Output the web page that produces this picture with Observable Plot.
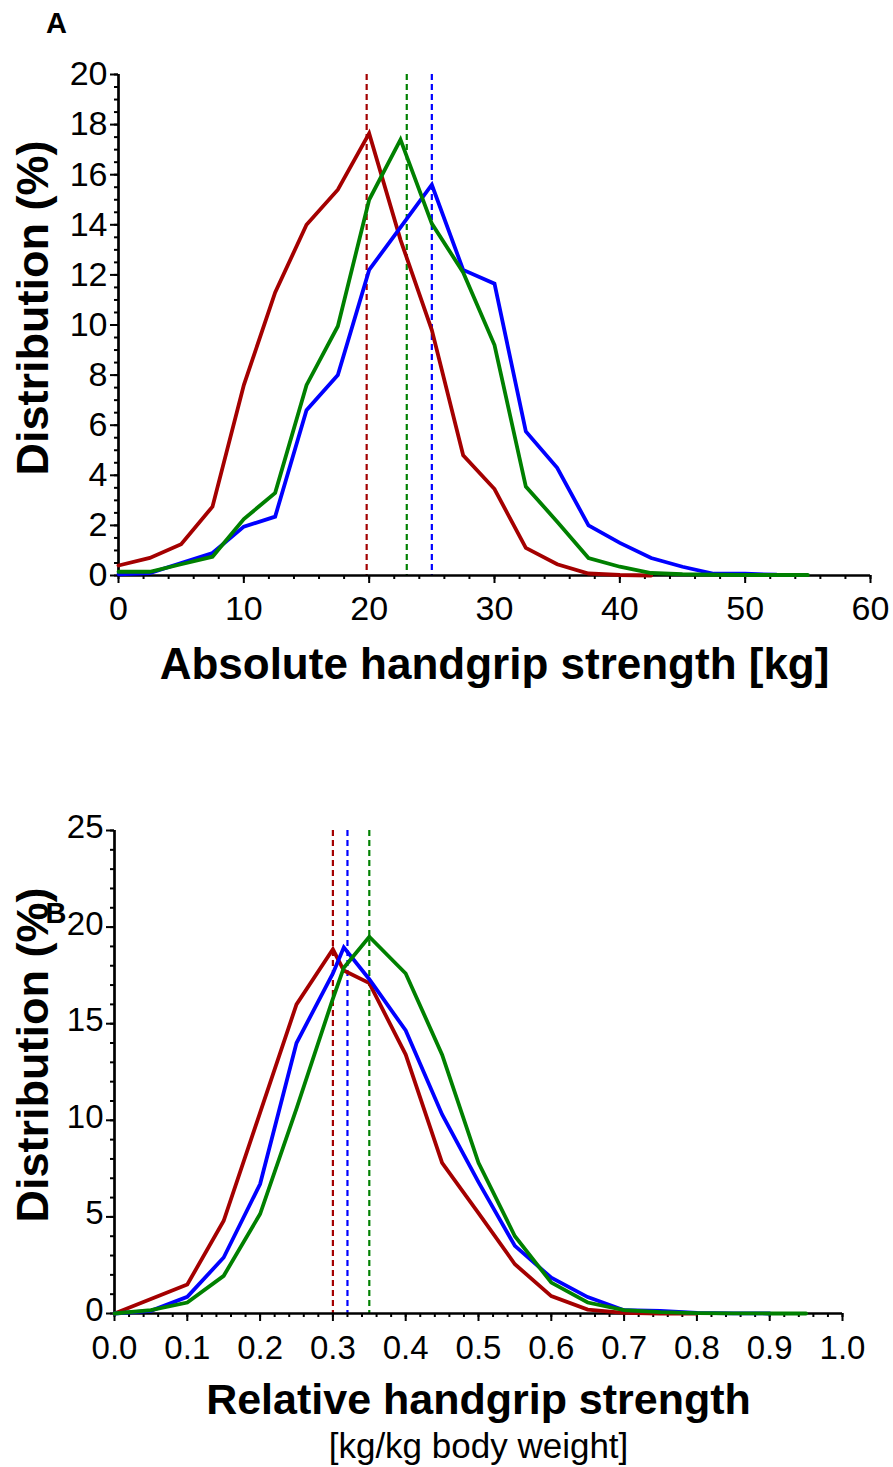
<!DOCTYPE html>
<html><head><meta charset="utf-8">
<script src="https://cdn.jsdelivr.net/npm/d3@7"></script>
<script src="https://cdn.jsdelivr.net/npm/@observablehq/plot@0.6"></script>
<style>body{margin:0;background:#fff} #chart svg{display:block}</style>
</head><body><div id="chart"></div>
<script>
// ---- Series ----
const seriesNames = ["Group 1", "Group 2", "Group 3"];
const seriesColors = ["#a40000", "#0000ff", "#008000"];

// ---- Panel A: absolute handgrip strength ----
const absX = [0, 2.5, 5, 7.5, 10, 12.5, 15, 17.5, 20, 22.5, 25, 27.5, 30, 32.5, 35, 37.5, 40, 42.5, 45, 47.5, 50, 52.5, 55];
const absRed = [0.4, 0.7, 1.25, 2.75, 7.6, 11.3, 14.0, 15.4, 17.65, 13.4, 9.8, 4.8, 3.45, 1.1, 0.45, 0.08, 0.02, 0];
const absBlue = [0.05, 0.1, 0.5, 0.9, 1.95, 2.35, 6.6, 8.0, 12.2, 13.9, 15.6, 12.2, 11.65, 5.75, 4.3, 2.0, 1.3, 0.7, 0.35, 0.07, 0.07, 0.03];
const absGreen = [0.15, 0.15, 0.45, 0.75, 2.25, 3.3, 7.6, 9.95, 15.0, 17.4, 14.05, 12.1, 9.2, 3.55, 2.15, 0.7, 0.35, 0.1, 0.05, 0.03, 0.02, 0.02, 0.02];
const absMeans = [19.8, 25.0, 23.0]; // red, blue, green
const absXTicks = [0, 10, 20, 30, 40, 50, 60];
const absYTicks = [0, 2, 4, 6, 8, 10, 12, 14, 16, 18, 20];

// ---- Panel B: relative handgrip strength ----
const relX = [0, 0.05, 0.1, 0.15, 0.2, 0.25, 0.3, 0.315, 0.35, 0.4, 0.45, 0.5, 0.55, 0.6, 0.65, 0.7, 0.75, 0.8, 0.85, 0.9, 0.95];
const relRed = [0, 0.75, 1.5, 4.8, 10.4, 16.0, 18.85, 17.75, 17.1, 13.4, 7.8, 5.2, 2.55, 0.9, 0.2, 0.03, 0, 0];
const relBlue = [0, 0.14, 0.86, 2.9, 6.7, 14.0, 17.6, 18.95, 17.3, 14.65, 10.3, 6.8, 3.5, 1.85, 0.85, 0.17, 0.14, 0.03, 0.01, 0];
const relGreen = [0, 0.17, 0.57, 1.95, 5.15, 10.6, 16.3, 17.9, 19.5, 17.6, 13.4, 7.8, 4.0, 1.6, 0.57, 0.17, 0.07, 0.02, 0.01, 0, 0];
const relMeans = [0.30, 0.32, 0.35]; // red, blue, green
const relXTicks = [0, 0.1, 0.2, 0.3, 0.4, 0.5, 0.6, 0.7, 0.8, 0.9, 1.0];
const relYTicks = [0, 5, 10, 15, 20, 25];

// ---- Texts ----
const panelLabels = ["A", "B"];
const yTitle = "Distribution (%)";
const absXTitle = "Absolute handgrip strength [kg]";
const relXTitle = "Relative handgrip strength";
const relXSubtitle = "[kg/kg body weight]";

function tidy(xs, ys, name) { return ys.map((y, i) => ({x: xs[i], y, series: name})); }
const absData = [
  ...tidy(absX, absRed, seriesNames[0]),
  ...tidy(absX, absBlue, seriesNames[1]),
  ...tidy(absX, absGreen, seriesNames[2])
];
const relData = [
  ...tidy(relX, relRed, seriesNames[0]),
  ...tidy(relX, relBlue, seriesNames[1]),
  ...tidy(relX, relGreen, seriesNames[2])
];
const absMeanData = absMeans.map((x, i) => ({x, series: seriesNames[i]}));
const relMeanData = relMeans.map((x, i) => ({x, series: seriesNames[i]}));

const style = {fontFamily: "'Liberation Sans', Arial, sans-serif", background: "white", color: "black", overflow: "visible"};

function panel(cfg) {
  return Plot.plot({
    width: 893, height: cfg.height,
    marginTop: cfg.mt, marginBottom: cfg.mb, marginLeft: cfg.ml, marginRight: cfg.mr,
    x: {domain: cfg.xDomain},
    y: {domain: cfg.yDomain},
    color: {domain: seriesNames, range: seriesColors},
    style,
    marks: [
      Plot.ruleX(cfg.means, {x: "x", stroke: "series", strokeWidth: 2.2, strokeDasharray: "6,4"}),
      Plot.axisY({ticks: cfg.yMinor, tickSize: 4, strokeWidth: 2, tickFormat: () => "", label: null}),
      Plot.axisY({ticks: cfg.yTicks, tickSize: 8, strokeWidth: 2, label: null, tickFormat: () => ""}),
      Plot.axisY({ticks: cfg.yTicks, tickSize: 8, tickPadding: 3, fontSize: cfg.tickFont, tickFormat: d => String(d), label: null, strokeOpacity: 0, dy: cfg.yLabelDy}),
      Plot.axisX({ticks: cfg.xMinor, tickSize: 4, strokeWidth: 2, tickFormat: () => "", label: null}),
      Plot.axisX({ticks: cfg.xTicks, tickSize: 8, strokeWidth: 2, tickPadding: cfg.xPad, fontSize: cfg.tickFont, tickFormat: cfg.xFormat, label: null}),
      Plot.ruleX([cfg.xDomain[0]], {stroke: "black", strokeWidth: 2.7}),
      Plot.ruleY([cfg.yDomain[0]], {stroke: "black", strokeWidth: 2.7}),
      Plot.line(cfg.data, {x: "x", y: "y", z: "series", stroke: "series", strokeWidth: 3.8, strokeLinejoin: "miter", strokeMiterlimit: 4}),
      Plot.text([yTitle], {frameAnchor: "left", rotate: -90, lineAnchor: "bottom", textAnchor: "middle", dx: cfg.yTitleDx, dy: -17, fontSize: 45, fontWeight: "bold"}),
      ...cfg.titles,
      Plot.text([cfg.label], {frameAnchor: "top-left", textAnchor: cfg.labelAnchor, lineAnchor: "bottom", dx: cfg.labelDx, dy: cfg.labelDy, fontSize: 29, fontWeight: "bold"})
    ]
  });
}

const range = (a, b, n) => d3.range(0, n + 1).map(i => a + (b - a) * i / n);

const topChart = panel({
  height: 720, mt: 74, mb: 145, ml: 118, mr: 23,
  xDomain: [0, 60], yDomain: [0, 20],
  xTicks: absXTicks, yTicks: absYTicks,
  xMinor: range(0, 60, 30), yMinor: range(0, 20, 40),
  tickFont: 34, yLabelDy: 0,
  xPad: 12, xFormat: d => String(d),
  data: absData, means: absMeanData,
  yTitleDx: -71,
  titles: [
    Plot.text([absXTitle], {frameAnchor: "bottom", lineAnchor: "bottom", dy: 103, fontSize: 44, fontWeight: "bold"})
  ],
  label: panelLabels[0], labelAnchor: "middle", labelDx: -62, labelDy: -42
});

const bottomChart = panel({
  height: 747, mt: 110, mb: 154, ml: 114, mr: 51,
  xDomain: [0, 1], yDomain: [0, 25],
  xTicks: relXTicks, yTicks: relYTicks,
  xMinor: range(0, 1, 50), yMinor: range(0, 25, 25),
  tickFont: 33, yLabelDy: -3,
  xPad: 14, xFormat: d3.format(".1f"),
  data: relData, means: relMeanData,
  yTitleDx: -67,
  titles: [
    Plot.text([relXTitle], {frameAnchor: "bottom", lineAnchor: "bottom", dy: 100, fontSize: 43, fontWeight: "bold"}),
    Plot.text([relXSubtitle], {frameAnchor: "bottom", lineAnchor: "bottom", dy: 144, fontSize: 35})
  ],
  label: panelLabels[1], labelAnchor: "start", labelDx: -69, labelDy: 92
});

const el = document.getElementById("chart");
el.append(topChart, bottomChart);
</script>
</body></html>
